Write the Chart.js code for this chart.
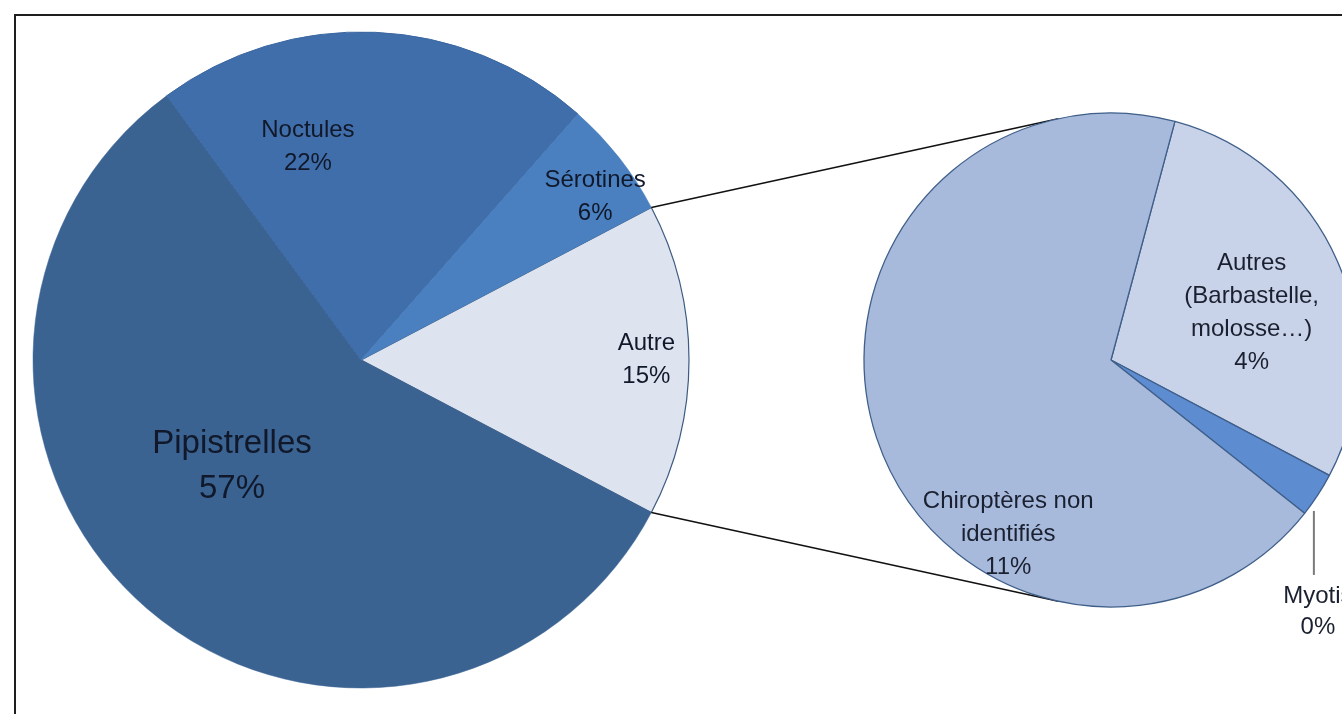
<!DOCTYPE html>
<html>
<head>
<meta charset="utf-8">
<script src="https://cdn.jsdelivr.net/npm/chart.js@4/dist/chart.umd.min.js"></script>
<style>
html, body { margin: 0; padding: 0; background: #fff; overflow: hidden; width: 1342px; height: 714px; }
#frame { position: absolute; left: 14px; top: 14px; width: 2000px; height: 2000px; border: 2px solid #1e1e1e; }
canvas { position: absolute; left: 0; top: 0; }
</style>
</head>
<body>
<div id="frame"></div>
<canvas id="mainPie" width="1342" height="714"></canvas>
<canvas id="detailPie" width="1342" height="714"></canvas>
<script>
// main pie (share of all contacts, %)
var mainNames = [['Autre'], ['Pipistrelles'], ['Noctules'], ['Sérotines']];
var mainValues = [15.4, 57.2, 21.6, 5.8];
var mainColors = ['#dde4f0', '#3a6392', '#406eaa', '#4a80c0'];

// detail of "Autre" (% of total)
var detailNames = [['Autres', '(Barbastelle,', 'molosse…)'], ['Myotis'], ['Chiroptères non', 'identifiés']];
var detailValues = [4.4, 0.45, 10.55];
var detailColors = ['#c8d3e9', '#5d8cd0', '#a7badb'];

// label placement: fraction of radius, angle shift (deg) from slice middle
var mainPlace = [{ r: 0.87, a: 0 }, { r: 0.51, a: 9.8 }, { r: 0.67, a: -16.5 }, { r: 0.87, a: 3.3 }];
var mainFont = [24, 33, 24, 24];
var detailPlace = [{ r: 0.6, a: 5.2 }, { out: true }, { r: 0.82, a: -41.2 }];

var FONT = '"Liberation Sans", Arial, sans-serif';

function pct(v) { return Math.round(v) + '%'; }

function drawLabels(chart, names, values, place, sizes, color) {
    var ctx = chart.ctx;
    var arcs = chart.getDatasetMeta(0).data;
    ctx.save();
    ctx.textAlign = 'center';
    ctx.textBaseline = 'middle';
    arcs.forEach(function (arc, i) {
        var p = arc.getProps(['x', 'y', 'startAngle', 'endAngle', 'outerRadius'], true);
        var mid = (p.startAngle + p.endAngle) / 2;
        var size = sizes[i];
        var lh = Math.round(size * 1.36);
        var lines = names[i].concat([pct(values[i])]);
        var x, y;
        ctx.font = size + 'px ' + FONT;
        ctx.fillStyle = color;
        if (place[i].out) {
            // label below the slice with a vertical leader line
            var ex = p.x + Math.cos(mid) * p.outerRadius;
            var ey = p.y + Math.sin(mid) * p.outerRadius;
            ctx.strokeStyle = '#7a7a7a';
            ctx.lineWidth = 2;
            ctx.beginPath();
            ctx.moveTo(ex - 4, ey + 16);
            ctx.lineTo(ex - 4, ey + 80);
            ctx.stroke();
            x = ex;
            y = ey + 101;
            lines.forEach(function (t, k) { ctx.fillText(t, x, y + k * 31); });
            return;
        }
        var a = mid + place[i].a * Math.PI / 180;
        x = p.x + Math.cos(a) * p.outerRadius * place[i].r;
        y = p.y + Math.sin(a) * p.outerRadius * place[i].r;
        var y0 = y - (lines.length - 1) * lh / 2;
        lines.forEach(function (t, k) { ctx.fillText(t, x, y0 + k * lh); });
    });
    ctx.restore();
}

var mainChart = new Chart(document.getElementById('mainPie').getContext('2d'), {
    type: 'pie',
    data: {
        labels: mainNames.map(function (n) { return n.join(' '); }),
        datasets: [{
            data: mainValues,
            backgroundColor: mainColors,
            borderColor: ['#3d5a80', '#3a6392', '#3a66a0', '#4a80c0'],
            borderWidth: [1.2, 0.5, 1, 0.5],
            hoverOffset: 0,
            clip: false
        }]
    },
    options: {
        responsive: false,
        animation: false,
        radius: 328,
        rotation: 90 - mainValues[0] * 1.8,
        layout: { padding: { left: 0, right: 620, top: 6, bottom: 0 } },
        plugins: { legend: { display: false }, tooltip: { enabled: false } }
    },
    plugins: [{
        id: 'mainLabels',
        afterDatasetsDraw: function (chart) {
            drawLabels(chart, mainNames, mainValues, mainPlace, mainFont, '#10182a');
        }
    }]
});

new Chart(document.getElementById('detailPie').getContext('2d'), {
    type: 'pie',
    data: {
        labels: detailNames.map(function (n) { return n.join(' '); }),
        datasets: [{
            data: detailValues,
            backgroundColor: detailColors,
            borderColor: '#3f5f8a',
            borderWidth: 1.3,
            hoverOffset: 0,
            clip: false
        }]
    },
    options: {
        responsive: false,
        animation: false,
        radius: 247,
        rotation: 15,
        layout: { padding: { left: 880, right: 0, top: 6, bottom: 0 } },
        plugins: { legend: { display: false }, tooltip: { enabled: false } }
    },
    plugins: [{
        id: 'connectors',
        beforeDatasetsDraw: function (chart) {
            var a = mainChart.getDatasetMeta(0).data[0].getProps(['x', 'y', 'startAngle', 'endAngle', 'outerRadius'], true);
            var c = chart.getDatasetMeta(0).data[0].getProps(['x', 'y', 'outerRadius'], true);
            var ctx = chart.ctx;
            ctx.save();
            ctx.strokeStyle = '#111';
            ctx.lineWidth = 1.6;
            [[a.startAngle, 1], [a.endAngle, -1]].forEach(function (s) {
                var px = a.x + Math.cos(s[0]) * a.outerRadius;
                var py = a.y + Math.sin(s[0]) * a.outerRadius;
                var dx = px - c.x, dy = py - c.y;
                var d = Math.sqrt(dx * dx + dy * dy);
                var t = Math.atan2(dy, dx) + s[1] * Math.acos(c.outerRadius / d);
                ctx.beginPath();
                ctx.moveTo(px, py);
                ctx.lineTo(c.x + Math.cos(t) * c.outerRadius, c.y + Math.sin(t) * c.outerRadius);
                ctx.stroke();
            });
            ctx.restore();
        },
        afterDatasetsDraw: function (chart) {
            drawLabels(chart, detailNames, detailValues, detailPlace, [24, 24, 24], '#1a2030');
        }
    }]
});
</script>
</body>
</html>
